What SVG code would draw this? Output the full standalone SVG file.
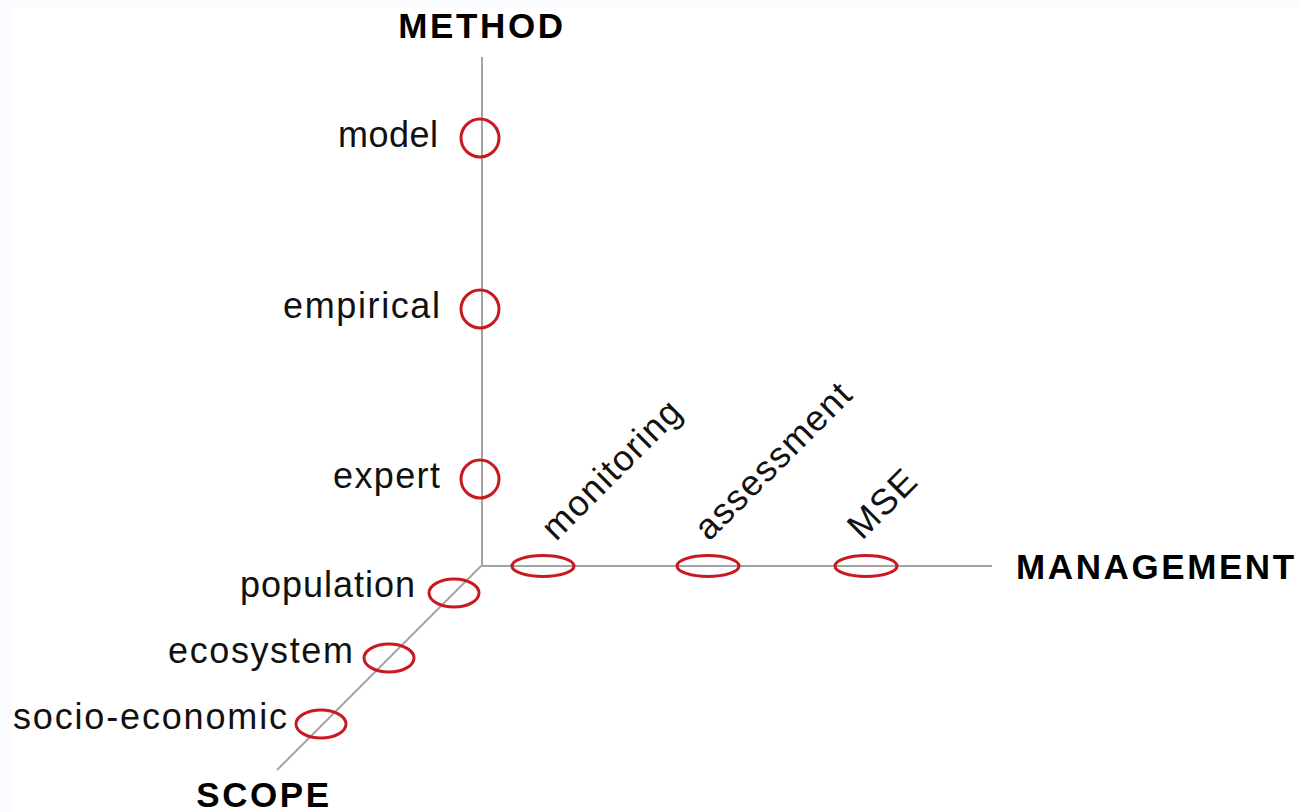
<svg xmlns="http://www.w3.org/2000/svg" width="1299" height="812" viewBox="0 0 1299 812">
<style>
.axis{stroke:#a3a3a3;stroke-width:2;fill:none}
.mark{fill:none;stroke:#c9191e;stroke-width:3}
.lbl{font-family:"Liberation Sans",Arial,sans-serif;font-size:36px;fill:#111}
.rot{letter-spacing:1.4px}
.ax{font-family:"Liberation Sans",Arial,sans-serif;font-size:35px;font-weight:bold;fill:#000;letter-spacing:2.6px}
</style>
<rect x="0" y="0" width="1299" height="812" fill="#f9fbfe"/>
<rect x="12" y="7" width="1287" height="805" fill="#ffffff"/>
<g id="connectors">
<line class="axis" x1="482" y1="57" x2="482" y2="566"/>
<line class="axis" x1="481" y1="566" x2="992" y2="566"/>
<line class="axis" x1="481" y1="566" x2="277" y2="770"/>
</g>
<g id="axis-method"><text class="ax" x="482" y="38" text-anchor="middle">METHOD</text></g>
<g id="axis-management"><text class="ax" x="1016" y="579">MANAGEMENT</text></g>
<g id="axis-scope"><text class="ax" x="264" y="807" text-anchor="middle">SCOPE</text></g>
<g id="model"><circle class="mark" cx="480" cy="138" r="19"/><text class="lbl" x="338" y="147" textLength="100" lengthAdjust="spacing">model</text></g>
<g id="empirical"><circle class="mark" cx="480" cy="309" r="19"/><text class="lbl" x="283" y="318" textLength="157" lengthAdjust="spacing">empirical</text></g>
<g id="expert"><circle class="mark" cx="480" cy="479" r="19"/><text class="lbl" x="333" y="488" textLength="107" lengthAdjust="spacing">expert</text></g>
<g id="monitoring"><ellipse class="mark" cx="543" cy="566" rx="31" ry="10.5"/><text class="lbl rot" transform="translate(556,542) rotate(-45)">monitoring</text></g>
<g id="assessment"><ellipse class="mark" cx="708" cy="566" rx="31" ry="10.5"/><text class="lbl rot" transform="translate(709,542) rotate(-45)">assessment</text></g>
<g id="mse"><ellipse class="mark" cx="866" cy="566" rx="31" ry="10.5"/><text class="lbl rot" transform="translate(862,541) rotate(-45)">MSE</text></g>
<g id="population"><ellipse class="mark" cx="454" cy="593" rx="25" ry="14"/><text class="lbl" x="240" y="597" textLength="175" lengthAdjust="spacing">population</text></g>
<g id="ecosystem"><ellipse class="mark" cx="389" cy="658" rx="25" ry="14"/><text class="lbl" x="168" y="663" textLength="185" lengthAdjust="spacing">ecosystem</text></g>
<g id="socio-economic"><ellipse class="mark" cx="321" cy="724" rx="25" ry="14"/><text class="lbl" x="13" y="729" textLength="274" lengthAdjust="spacing">socio-economic</text></g>
</svg>
